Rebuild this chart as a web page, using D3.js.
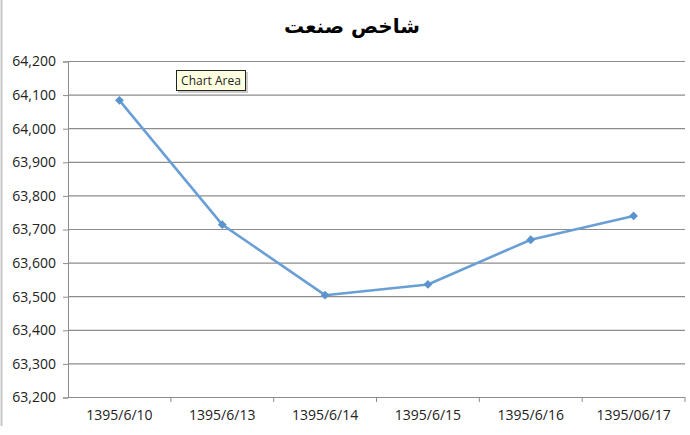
<!DOCTYPE html>
<html>
<head>
<meta charset="utf-8">
<script src="https://cdn.jsdelivr.net/npm/d3@7"></script>
<style>
  body { margin: 0; background: #fff; }
  svg { display: block; }
</style>
</head>
<body>
<script>
const title = "شاخص صنعت";
const dates = ["1395/6/10", "1395/6/13", "1395/6/14", "1395/6/15", "1395/6/16", "1395/06/17"];
const values = [64083, 63713, 63503, 63535, 63668, 63739];
const yTicks = [63200, 63300, 63400, 63500, 63600, 63700, 63800, 63900, 64000, 64100, 64200];

const width = 690, height = 435;
const margin = {top: 61, right: 5, bottom: 38, left: 68};

const svg = d3.select("body").append("svg")
  .attr("width", width)
  .attr("height", height);

// outer frame edge on the left
svg.append("line")
  .attr("x1", 1.5).attr("x2", 1.5)
  .attr("y1", 0).attr("y2", 426)
  .attr("stroke", "#c8c8c8").attr("stroke-width", 2);

var x = d3.scaleBand()
  .domain(dates)
  .range([margin.left, width - margin.right]);

var y = d3.scaleLinear()
  .domain([63200, 64200])
  .range([height - margin.bottom, margin.top]);

// gridlines
svg.append("g")
  .selectAll("line")
  .data(yTicks)
  .join("line")
    .attr("x1", margin.left)
    .attr("x2", width - margin.right)
    .attr("y1", d => y(d) + 0.5)
    .attr("y2", d => y(d) + 0.5)
    .attr("stroke", "#8c8c8c")
    .attr("stroke-width", 1.2);

var yAxis = g => g
  .attr("transform", `translate(${margin.left},0.5)`)
  .call(d3.axisLeft(y).tickValues(yTicks).tickSize(5).tickPadding(7).tickFormat(d3.format(",")))
  .call(g => g.select(".domain").attr("stroke", "#8c8c8c"))
  .call(g => g.selectAll(".tick line").attr("stroke", "#8c8c8c"))
  .call(g => g.selectAll("text")
    .attr("fill", "#222")
    .style("font", "14px 'Open Sans', sans-serif"));

var xAxis = g => g
  .attr("transform", `translate(0,${height - margin.bottom + 0.5})`)
  .call(d3.axisBottom(x).tickSize(0).tickPadding(13))
  .call(g => g.select(".domain").attr("stroke", "#8c8c8c").attr("d", `M${margin.left},0H${width - margin.right}`))
  .call(g => g.selectAll("text")
    .attr("fill", "#222")
    .style("font", "14px 'Open Sans', sans-serif"));

svg.append("g").call(yAxis);
svg.append("g").call(xAxis);

// category boundary ticks
svg.append("g")
  .selectAll("line")
  .data(dates.slice(1).concat(["end"]))
  .join("line")
    .attr("x1", (d, i) => i < dates.length - 1 ? x(d) : width - margin.right)
    .attr("x2", (d, i) => i < dates.length - 1 ? x(d) : width - margin.right)
    .attr("y1", height - margin.bottom)
    .attr("y2", height - margin.bottom + 5)
    .attr("stroke", "#8c8c8c");

const cx = d => x(d) + x.bandwidth() / 2;

svg.append("path")
  .datum(values)
  .attr("fill", "none")
  .attr("stroke", "#6a9fd6")
  .attr("stroke-width", 2.6)
  .attr("stroke-linejoin", "round")
  .attr("d", d3.line().x((d, i) => cx(dates[i])).y(d => y(d)));

svg.append("g")
  .selectAll("path")
  .data(values)
  .join("path")
    .attr("transform", (d, i) => `translate(${cx(dates[i])},${y(d)})`)
    .attr("d", d3.symbol(d3.symbolDiamond2, 50))
    .attr("fill", "#5b93cf");

svg.append("text")
  .attr("x", 352)
  .attr("y", 33)
  .attr("text-anchor", "middle")
  .attr("direction", "rtl")
  .style("font", "bold 20px 'DejaVu Sans', sans-serif")
  .attr("fill", "#000")
  .text(title);

// "Chart Area" hover tip
const tip = svg.append("g").attr("transform", "translate(176,70)");
tip.append("rect")
  .attr("x", 2).attr("y", 2)
  .attr("width", 70).attr("height", 21)
  .attr("fill", "#aaa").attr("opacity", 0.6);
tip.append("rect")
  .attr("x", 0.5).attr("y", 0.5)
  .attr("width", 69).attr("height", 20)
  .attr("fill", "#ffffe1").attr("stroke", "#222");
tip.append("text")
  .attr("x", 35).attr("y", 15)
  .attr("text-anchor", "middle")
  .style("font", "12px 'Open Sans', sans-serif")
  .attr("fill", "#222")
  .text("Chart Area");
</script>
</body>
</html>
